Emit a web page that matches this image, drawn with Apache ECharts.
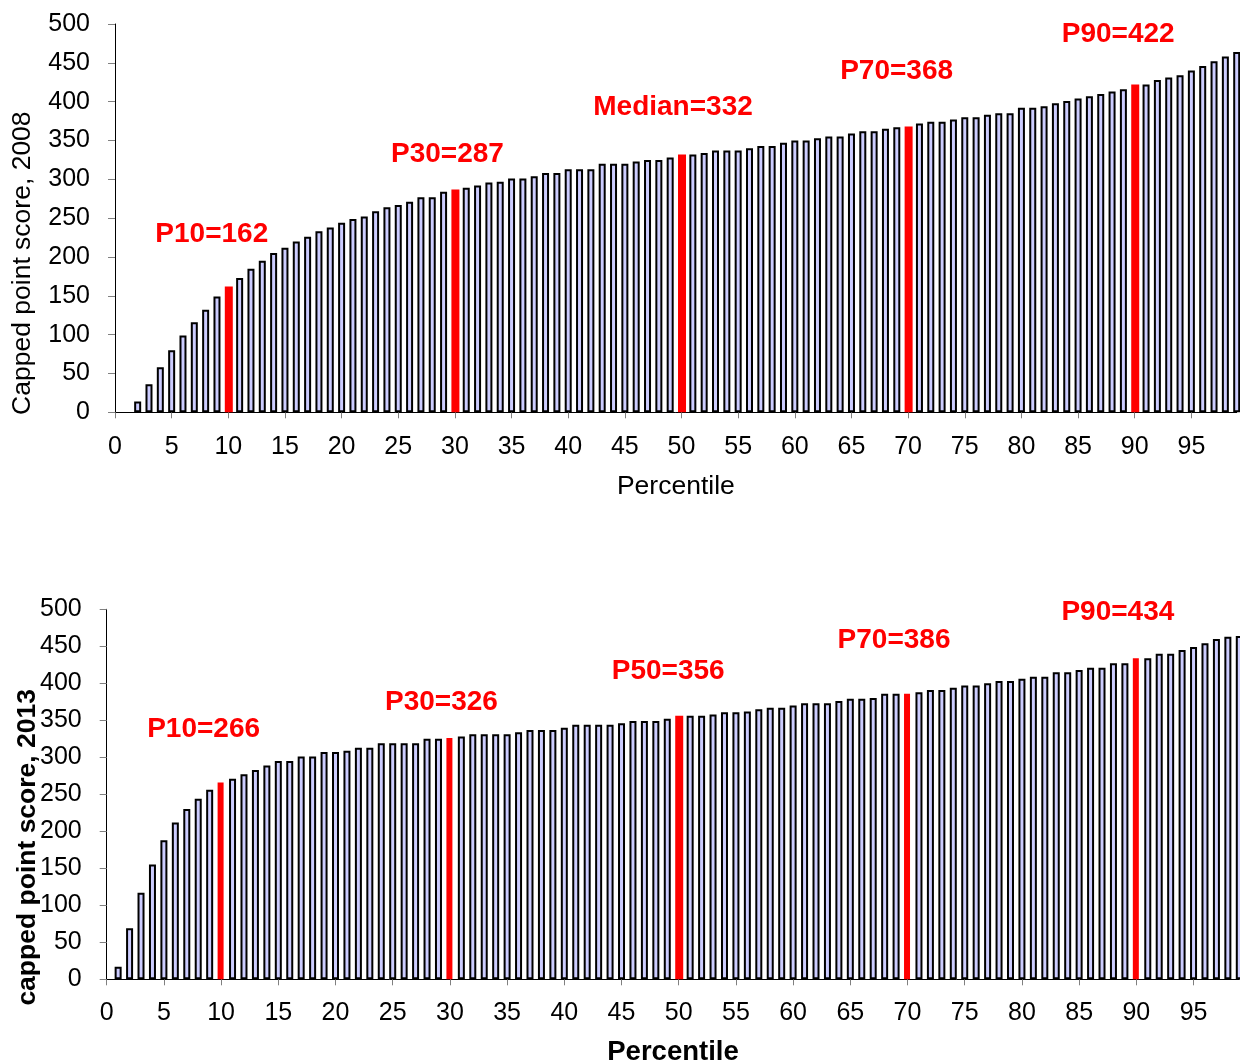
<!DOCTYPE html>
<html><head><meta charset="utf-8">
<script src="https://cdn.jsdelivr.net/npm/echarts@6/dist/echarts.min.js"></script>
<style>html,body{margin:0;padding:0;background:#fff}#c{width:1240px;height:1063px}</style>
</head><body><div id="c"></div>
<script>
// ---------- DATA ----------
const percentiles = Array.from({length: 100}, (_, i) => String(i)); // category labels 0..99

const score2008 = [
  null, null, 14, 36, 58, 80, 99, 116, 132, 149,
  162, 173, 185, 195, 205, 212, 220, 226, 233, 238,
  244, 249, 252, 259, 264, 267, 271, 277, 277, 284,
  287, 289, 292, 296, 297, 301, 301, 304, 308, 308,
  313, 313, 313, 320, 320, 320, 323, 325, 325, 328,
  332, 332, 334, 337, 337, 337, 340, 343, 343, 347,
  350, 350, 353, 355, 355, 359, 362, 362, 365, 367,
  368, 372, 374, 374, 377, 380, 380, 383, 385, 385,
  392, 392, 394, 398, 401, 404, 407, 410, 413, 416,
  422, 422, 428, 431, 434, 440, 446, 452, 458, 464
];

const score2013 = [
  null, 17, 69, 117, 155, 188, 212, 230, 244, 256,
  266, 271, 277, 283, 289, 295, 295, 301, 301, 307,
  307, 309, 313, 313, 319, 319, 319, 319, 325, 325,
  326, 328, 331, 331, 331, 331, 334, 337, 337, 337,
  340, 344, 344, 344, 344, 346, 349, 349, 349, 352,
  356, 356, 356, 358, 361, 361, 362, 365, 367, 367,
  370, 373, 373, 373, 376, 379, 379, 380, 386, 386,
  386, 388, 391, 391, 394, 397, 397, 400, 403, 403,
  406, 409, 409, 415, 415, 418, 421, 421, 427, 427,
  434, 434, 440, 440, 445, 449, 454, 460, 463, 464
];

const markedPercentiles = [10, 30, 50, 70, 90];
const labels2008 = ['P10=162', 'P30=287', 'Median=332', 'P70=368', 'P90=422'];
const labels2013 = ['P10=266', 'P30=326', 'P50=356', 'P70=386', 'P90=434'];

const axisName2008 = 'Capped point score, 2008';
const axisName2013 = 'capped point score, 2013';
const xName = 'Percentile';

// ---------- STYLE / LAYOUT ----------
const FONT = 'Liberation Sans, Arial, sans-serif';
const style2008 = {
  redWidth: [8, 8, 8, 8, 8],
  labelOffsets: [[-17, -38], [-8, -21], [-9, -33], [-12, -41], [-17, -36]]
};
const style2013 = {
  redWidth: [6, 6, 8, 6, 6],
  labelOffsets: [[-17, -39], [-8, -22], [-11, -31], [-13, -39], [-18, -32]]
};

function normalData(values) {
  return values.map((v, i) => markedPercentiles.indexOf(i) >= 0 ? '-' : (v == null ? '-' : v));
}
function redData(values, labels, st, width) {
  return values.map((v, i) => {
    const k = markedPercentiles.indexOf(i);
    if (k < 0 || st.redWidth[k] !== width) return '-';
    return {
      value: v,
      label: {
        show: true, formatter: labels[k], position: 'top', distance: 0,
        offset: st.labelOffsets[k], color: '#ff0000', fontWeight: 'bold',
        fontSize: 28, lineHeight: 28, fontFamily: FONT
      }
    };
  });
}

function xAxisCfg(gi, bold, nameGap, margin, nameSize) {
  return {
    gridIndex: gi, type: 'category', data: percentiles, boundaryGap: false,
    axisLine: {show: true, lineStyle: {color: '#000', width: 1}},
    axisTick: {show: true, interval: 4, length: 6, lineStyle: {color: '#808080', width: 1}},
    axisLabel: {interval: 4, color: '#000', fontSize: 25, fontFamily: FONT, margin: margin},
    splitLine: {show: false},
    name: xName, nameLocation: 'middle', nameGap: nameGap, nameMoveOverlap: false,
    nameTextStyle: {color: '#000', fontSize: nameSize, fontWeight: bold ? 'bold' : 'normal', fontFamily: FONT}
  };
}
function yAxisCfg(gi, name, bold, nameGap, shiftPad) {
  return {
    gridIndex: gi, type: 'value', min: 0, max: 500, interval: 50,
    axisLine: {show: true, lineStyle: {color: '#000', width: 1}},
    axisTick: {show: true, length: 7, lineStyle: {color: '#808080', width: 1}},
    axisLabel: {color: '#000', fontSize: 25, fontFamily: FONT, margin: 25},
    splitLine: {show: false},
    name: name, nameLocation: 'middle', nameGap: nameGap, nameMoveOverlap: false,
    nameTextStyle: {color: '#000', fontSize: 26.5, fontWeight: bold ? 'bold' : 'normal', fontFamily: FONT,
      padding: [0, shiftPad, 0, 0]}
  };
}
function seriesFor(idx, values, labels, st) {
  const widths = Array.from(new Set(st.redWidth));
  const out = widths.map(w => ({
    type: 'bar', xAxisIndex: idx, yAxisIndex: idx,
    data: redData(values, labels, st, w),
    barWidth: w, barGap: '-100%',
    itemStyle: {color: '#ff0000', borderWidth: 0},
    emphasis: {disabled: true}, animation: false
  }));
  out.push({
    type: 'bar', xAxisIndex: idx, yAxisIndex: idx,
    data: normalData(values),
    barWidth: 7, barGap: '-100%',
    itemStyle: {color: '#ccccff', borderColor: '#000', borderWidth: 2},
    emphasis: {disabled: true}, animation: false
  });
  return out;
}

const chart = echarts.init(document.getElementById('c'), null, {renderer: 'canvas'});
chart.setOption({
  backgroundColor: '#fff',
  animation: false,
  grid: [
    {left: 115, top: 24, width: 1121.7, height: 388.3, containLabel: false, outerBoundsMode: 'none'},
    {left: 106.7, top: 609.3, width: 1132.6, height: 370, containLabel: false, outerBoundsMode: 'none'}
  ],
  xAxis: [xAxisCfg(0, false, 61, 22, 26.5), xAxisCfg(1, true, 59, 21, 27.5)],
  yAxis: [yAxisCfg(0, axisName2008, false, 79, 90), yAxisCfg(1, axisName2013, true, 66, 106)],
  series: [].concat(
    seriesFor(0, score2008, labels2008, style2008),
    seriesFor(1, score2013, labels2013, style2013)
  )
});
</script>
</body></html>
